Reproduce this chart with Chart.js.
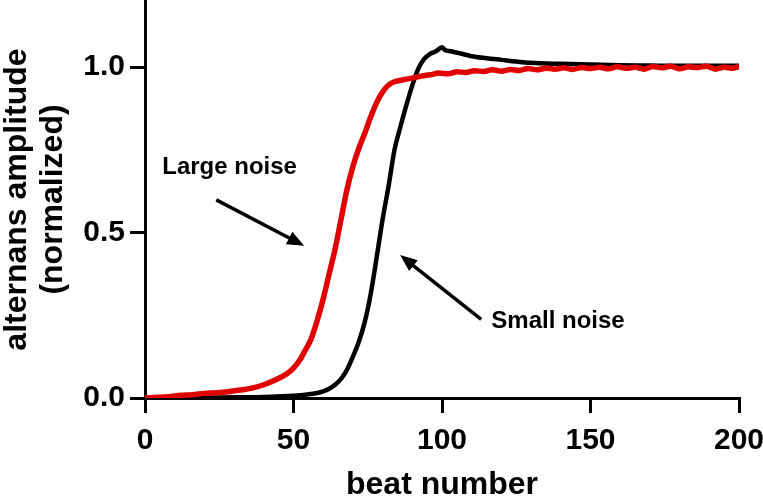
<!DOCTYPE html>
<html>
<head>
<meta charset="utf-8">
<script src="https://cdn.jsdelivr.net/npm/chart.js@4"></script>
<style>
html,body{margin:0;padding:0;background:#fff;}
#wrap{width:763px;height:497px;position:relative;}
</style>
</head>
<body>
<div id="wrap"><canvas id="c" width="763" height="497"></canvas></div>
<script>
// ---- data ----
const largeNoiseBeats = [0,4,8,12,16,20,24,28,32,36,40,44,48,50,52,54,56,58,60,62,64,66,68,70,72,74,76,78,80,82,84,87,90,93,96,99,102,105,108,111,114,117,120,123,126,129,132,135,138,141,144,147,150,153,156,159,162,165,168,171,174,177,180,183,186,189,192,195,198,200];
const largeNoiseValues = [0.000,0.002,0.004,0.008,0.010,0.014,0.016,0.019,0.024,0.030,0.040,0.055,0.075,0.090,0.113,0.145,0.180,0.235,0.300,0.375,0.450,0.540,0.630,0.700,0.755,0.800,0.850,0.893,0.925,0.946,0.956,0.962,0.967,0.973,0.977,0.982,0.980,0.986,0.984,0.989,0.987,0.992,0.988,0.993,0.990,0.996,0.992,0.997,0.994,0.998,0.993,0.999,0.996,1.000,0.995,1.001,0.997,1.000,0.994,1.002,0.998,1.003,0.995,1.001,0.999,1.003,0.994,1.000,0.997,1.002];
const smallNoiseBeats = [0,10,20,30,40,46,50,54,58,60,62,64,66,68,70,72,74,76,78,80,82,84,86,88,90,92,94,96,98,100,101,103,106,110,115,120,125,130,140,150,160,170,180,190,200];
const smallNoiseValues = [0.000,0.000,0.001,0.002,0.003,0.005,0.007,0.010,0.015,0.020,0.028,0.040,0.058,0.085,0.125,0.170,0.230,0.315,0.425,0.540,0.640,0.750,0.820,0.885,0.945,0.995,1.025,1.040,1.048,1.060,1.052,1.048,1.042,1.033,1.027,1.022,1.017,1.013,1.010,1.008,1.006,1.005,1.004,1.004,1.004];
const xTicks = [0,50,100,150,200];
const yTicks = [0,0.5,1.0];
const xTitle = 'beat number';
const yTitle = ['alternans amplitude','(normalized)'];

const FONT = "'Liberation Sans', Arial, sans-serif";

const annot = {
  id:'annot',
  afterDatasetsDraw(chart){
    const ctx = chart.ctx, xs = chart.scales.x, ys = chart.scales.y;
    const P = (x,y)=>[xs.getPixelForValue(x), ys.getPixelForValue(y)];
    function arrow(a,b){
      const [x1,y1]=P(a[0],a[1]), [x2,y2]=P(b[0],b[1]);
      const ang=Math.atan2(y2-y1,x2-x1), L=17, W=7;
      ctx.save();
      ctx.strokeStyle='#000'; ctx.fillStyle='#000'; ctx.lineWidth=3.5;
      ctx.beginPath(); ctx.moveTo(x1,y1);
      ctx.lineTo(x2-Math.cos(ang)*L*0.8, y2-Math.sin(ang)*L*0.8); ctx.stroke();
      ctx.beginPath();
      ctx.moveTo(x2,y2);
      ctx.lineTo(x2-Math.cos(ang)*L-Math.sin(ang)*W, y2-Math.sin(ang)*L+Math.cos(ang)*W);
      ctx.lineTo(x2-Math.cos(ang)*L+Math.sin(ang)*W, y2-Math.sin(ang)*L-Math.cos(ang)*W);
      ctx.closePath(); ctx.fill();
      ctx.restore();
    }
    function text(s,x,y){
      const [px,py]=P(x,y);
      ctx.save(); ctx.fillStyle='#000'; ctx.font="bold 24px "+FONT;
      ctx.textAlign='left'; ctx.textBaseline='alphabetic';
      ctx.fillText(s,px,py); ctx.restore();
    }
    text('Large noise',5.8,0.677);
    arrow([24.0,0.599],[53.6,0.46]);
    text('Small noise',116.6,0.212);
    arrow([113.2,0.238],[85.9,0.432]);
  }
};

new Chart(document.getElementById('c'),{
  type:'line',
  data:{
    datasets:[
      {label:'Large noise', data:largeNoiseBeats.map((b,i)=>({x:b,y:largeNoiseValues[i]})),
       borderColor:'#e00000', borderWidth:5.5, pointRadius:0, cubicInterpolationMode:'monotone', order:0},
      {label:'Small noise', data:smallNoiseBeats.map((b,i)=>({x:b,y:smallNoiseValues[i]})),
       borderColor:'#000000', borderWidth:4.5, pointRadius:0, cubicInterpolationMode:'monotone', order:1}
    ]
  },
  options:{
    responsive:false, animation:false, devicePixelRatio:1,
    layout:{padding:{top:1,right:24,left:0,bottom:0}},
    plugins:{legend:{display:false}, tooltip:{enabled:false}},
    scales:{
      x:{type:'linear', min:0, max:200,
        afterBuildTicks:s=>{s.ticks=xTicks.map(v=>({value:v}));},
        afterFit:s=>{s.height=99; s.paddingLeft=0; s.paddingRight=0;},
        ticks:{color:'#000', font:{family:FONT,size:30,weight:'bold'}, padding:10, maxRotation:0,
               callback:v=>String(v)},
        grid:{display:true, drawOnChartArea:false, drawTicks:true, tickLength:15, lineWidth:3, tickWidth:3, tickColor:'#000'},
        border:{display:true, color:'#000', width:3},
        title:{display:true, text:xTitle, color:'#000', font:{family:FONT,size:32,weight:'bold',lineHeight:0.75}, padding:{top:0,bottom:0}}
      },
      y:{type:'linear', min:0, max:1.2,
        afterBuildTicks:s=>{s.ticks=yTicks.map(v=>({value:v}));},
        afterFit:s=>{s.width=145; s.paddingTop=0; s.paddingBottom=0;},
        ticks:{color:'#000', font:{family:FONT,size:30,weight:'bold'}, padding:5,
               callback:v=>Number(v).toFixed(1)},
        grid:{display:true, drawOnChartArea:false, drawTicks:true, tickLength:15, lineWidth:3, tickWidth:3, tickColor:'#000'},
        border:{display:true, color:'#000', width:3},
        title:{display:true, text:yTitle, color:'#000', font:{family:FONT,size:32,weight:'bold',lineHeight:1.1}, padding:{top:0,bottom:0}}
      }
    }
  },
  plugins:[annot]
});
</script>
</body>
</html>
